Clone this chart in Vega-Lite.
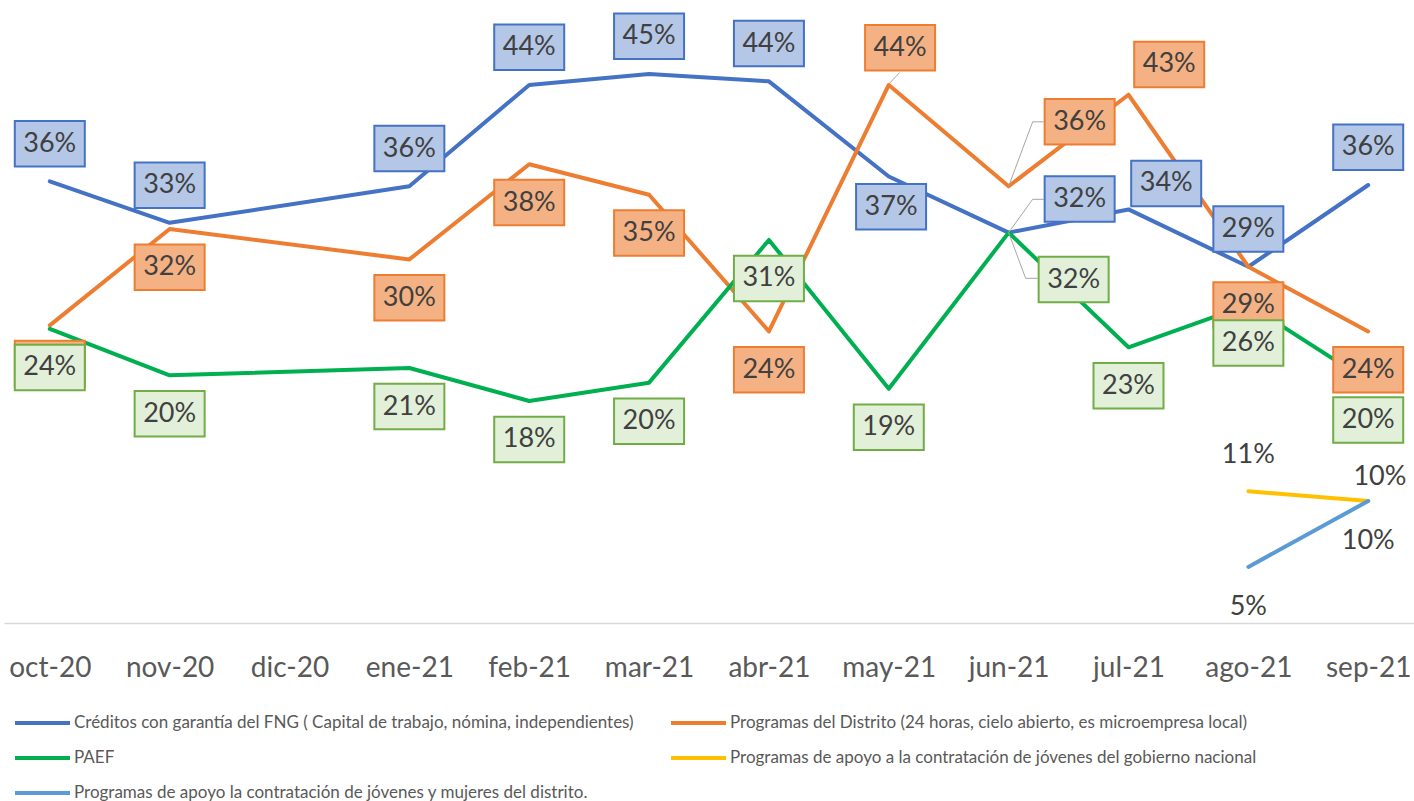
{
  "$schema": "https://vega.github.io/schema/vega-lite/v6.json",
  "autosize": {"type": "none"},
  "width": 1410,
  "height": 610,
  "padding": {"left": 4, "top": 13, "right": 0, "bottom": 178},
  "background": "white",
  "config": {"view": {"stroke": null}, "font": "Lato"},
  "data": {"values": [
    {"serie": "Créditos con garantía del FNG ( Capital de trabajo, nómina, independientes)", "mes": "oct-20", "v": 0.362},
    {"serie": "Créditos con garantía del FNG ( Capital de trabajo, nómina, independientes)", "mes": "nov-20", "v": 0.328},
    {"serie": "Créditos con garantía del FNG ( Capital de trabajo, nómina, independientes)", "mes": "ene-21", "v": 0.358},
    {"serie": "Créditos con garantía del FNG ( Capital de trabajo, nómina, independientes)", "mes": "feb-21", "v": 0.441},
    {"serie": "Créditos con garantía del FNG ( Capital de trabajo, nómina, independientes)", "mes": "mar-21", "v": 0.450},
    {"serie": "Créditos con garantía del FNG ( Capital de trabajo, nómina, independientes)", "mes": "abr-21", "v": 0.444},
    {"serie": "Créditos con garantía del FNG ( Capital de trabajo, nómina, independientes)", "mes": "may-21", "v": 0.366},
    {"serie": "Créditos con garantía del FNG ( Capital de trabajo, nómina, independientes)", "mes": "jun-21", "v": 0.320},
    {"serie": "Créditos con garantía del FNG ( Capital de trabajo, nómina, independientes)", "mes": "jul-21", "v": 0.339},
    {"serie": "Créditos con garantía del FNG ( Capital de trabajo, nómina, independientes)", "mes": "ago-21", "v": 0.292},
    {"serie": "Créditos con garantía del FNG ( Capital de trabajo, nómina, independientes)", "mes": "sep-21", "v": 0.359},
    {"serie": "Programas del Distrito (24 horas, cielo abierto, es microempresa local)", "mes": "oct-20", "v": 0.244},
    {"serie": "Programas del Distrito (24 horas, cielo abierto, es microempresa local)", "mes": "nov-20", "v": 0.323},
    {"serie": "Programas del Distrito (24 horas, cielo abierto, es microempresa local)", "mes": "ene-21", "v": 0.298},
    {"serie": "Programas del Distrito (24 horas, cielo abierto, es microempresa local)", "mes": "feb-21", "v": 0.376},
    {"serie": "Programas del Distrito (24 horas, cielo abierto, es microempresa local)", "mes": "mar-21", "v": 0.351},
    {"serie": "Programas del Distrito (24 horas, cielo abierto, es microempresa local)", "mes": "abr-21", "v": 0.239},
    {"serie": "Programas del Distrito (24 horas, cielo abierto, es microempresa local)", "mes": "may-21", "v": 0.441},
    {"serie": "Programas del Distrito (24 horas, cielo abierto, es microempresa local)", "mes": "jun-21", "v": 0.358},
    {"serie": "Programas del Distrito (24 horas, cielo abierto, es microempresa local)", "mes": "jul-21", "v": 0.433},
    {"serie": "Programas del Distrito (24 horas, cielo abierto, es microempresa local)", "mes": "ago-21", "v": 0.292},
    {"serie": "Programas del Distrito (24 horas, cielo abierto, es microempresa local)", "mes": "sep-21", "v": 0.239},
    {"serie": "PAEF", "mes": "oct-20", "v": 0.241},
    {"serie": "PAEF", "mes": "nov-20", "v": 0.203},
    {"serie": "PAEF", "mes": "ene-21", "v": 0.209},
    {"serie": "PAEF", "mes": "feb-21", "v": 0.182},
    {"serie": "PAEF", "mes": "mar-21", "v": 0.197},
    {"serie": "PAEF", "mes": "abr-21", "v": 0.314},
    {"serie": "PAEF", "mes": "may-21", "v": 0.192},
    {"serie": "PAEF", "mes": "jun-21", "v": 0.320},
    {"serie": "PAEF", "mes": "jul-21", "v": 0.226},
    {"serie": "PAEF", "mes": "ago-21", "v": 0.261},
    {"serie": "PAEF", "mes": "sep-21", "v": 0.198},
    {"serie": "Programas de apoyo a la contratación de jóvenes del gobierno nacional", "mes": "ago-21", "v": 0.108},
    {"serie": "Programas de apoyo a la contratación de jóvenes del gobierno nacional", "mes": "sep-21", "v": 0.100},
    {"serie": "Programas de apoyo la contratación de jóvenes y mujeres del distrito.", "mes": "ago-21", "v": 0.046},
    {"serie": "Programas de apoyo la contratación de jóvenes y mujeres del distrito.", "mes": "sep-21", "v": 0.100}
  ]},
  "encoding": {
    "x": {"field": "mes", "type": "ordinal",
      "scale": {"type": "point", "padding": 0.382, "domain": ["oct-20","nov-20","dic-20","ene-21","feb-21","mar-21","abr-21","may-21","jun-21","jul-21","ago-21","sep-21"]},
      "axis": {"title": null, "labelAngle": 0, "ticks": false, "tickSize": 0, "grid": false, "domainColor": "#D9D9D9", "domainWidth": 1.5,
        "labelFont": "Lato", "labelFontSize": 28, "labelColor": "#595959", "labelBaseline": "alphabetic", "labelPadding": 53, "labelOverlap": false}},
    "y": {"field": "v", "type": "quantitative", "scale": {"domain": [0, 0.5]}, "axis": null}
  },
  "layer": [
    {"mark": {"type": "line", "strokeWidth": 4, "strokeCap": "round", "strokeJoin": "round"},
     "encoding": {"color": {"field": "serie", "type": "nominal",
       "scale": {"domain": ["Créditos con garantía del FNG ( Capital de trabajo, nómina, independientes)", "Programas del Distrito (24 horas, cielo abierto, es microempresa local)", "PAEF", "Programas de apoyo a la contratación de jóvenes del gobierno nacional", "Programas de apoyo la contratación de jóvenes y mujeres del distrito."],
                 "range": ["#4472C4", "#ED7D31", "#00B050", "#FFC000", "#5B9BD5"]},
       "legend": {"orient": "none", "legendX": 9, "legendY": 702, "columns": 2, "direction": "horizontal", "title": null, "symbolType": "stroke", "symbolSize": 3025, "symbolStrokeWidth": 4,
         "labelFont": "Lato", "labelFontSize": 17, "labelColor": "#595959", "labelLimit": 1000, "labelOffset": 2, "rowPadding": 18, "columnPadding": 35, "clipHeight": 16, "padding": 0, "symbolOffset": 0}}}},

    {"transform": [{"filter": {"and": [{"field": "serie", "equal": "Programas del Distrito (24 horas, cielo abierto, es microempresa local)"}, {"field": "mes", "equal": "may-21"}]}}],
     "mark": {"type": "point", "shape": "M0.02,-0.04L0.22,-0.252", "size": 10000, "filled": false, "stroke": "#A6A6A6", "strokeWidth": 1, "opacity": 1}},
    {"transform": [{"filter": {"and": [{"field": "serie", "equal": "Programas del Distrito (24 horas, cielo abierto, es microempresa local)"}, {"field": "mes", "equal": "jun-21"}]}}],
     "mark": {"type": "point", "shape": "M0,0L0.48,-1.288L0.7,-1.288", "size": 10000, "filled": false, "stroke": "#A6A6A6", "strokeWidth": 1, "opacity": 1}},
    {"transform": [{"filter": {"and": [{"field": "serie", "equal": "Créditos con garantía del FNG ( Capital de trabajo, nómina, independientes)"}, {"field": "mes", "equal": "jun-21"}]}}],
     "mark": {"type": "point", "shape": "M0,0L0.48,-0.666L0.7,-0.666", "size": 10000, "filled": false, "stroke": "#A6A6A6", "strokeWidth": 1, "opacity": 1}},
    {"transform": [{"filter": {"and": [{"field": "serie", "equal": "PAEF"}, {"field": "mes", "equal": "jun-21"}]}}],
     "mark": {"type": "point", "shape": "M0,0L0.34,0.914L0.58,0.914", "size": 10000, "filled": false, "stroke": "#A6A6A6", "strokeWidth": 1, "opacity": 1}},

    {"transform": [{"filter": {"and": [{"field": "serie", "equal": "Créditos con garantía del FNG ( Capital de trabajo, nómina, independientes)"}, {"field": "mes", "oneOf": ["oct-20","nov-20","ene-21","feb-21","mar-21","abr-21","ago-21","sep-21"]}]}}],
     "mark": {"type": "point", "shape": "M-1,-0.65L1,-0.65L1,0.65L-1,0.65Z", "size": 4900, "filled": true, "fill": "#B4C7E7", "stroke": "#4472C4", "strokeWidth": 2, "opacity": 1, "yOffset": -37.7}},
    {"transform": [{"filter": {"and": [{"field": "serie", "equal": "Créditos con garantía del FNG ( Capital de trabajo, nómina, independientes)"}, {"field": "mes", "oneOf": ["oct-20","nov-20","ene-21","feb-21","mar-21","abr-21","ago-21","sep-21"]}]}}],
     "mark": {"type": "text", "font": "Lato", "fontSize": 27, "color": "#404040", "align": "center", "baseline": "middle", "yOffset": -37.7},
     "encoding": {"text": {"field": "v", "type": "quantitative", "format": ".0%"}}},
    {"transform": [{"filter": {"and": [{"field": "serie", "equal": "Créditos con garantía del FNG ( Capital de trabajo, nómina, independientes)"}, {"field": "mes", "equal": "may-21"}]}}],
     "mark": {"type": "point", "shape": "M-1,-0.65L1,-0.65L1,0.65L-1,0.65Z", "size": 4900, "filled": true, "fill": "#B4C7E7", "stroke": "#4472C4", "strokeWidth": 2, "opacity": 1, "xOffset": 2.3, "yOffset": 30.3}},
    {"transform": [{"filter": {"and": [{"field": "serie", "equal": "Créditos con garantía del FNG ( Capital de trabajo, nómina, independientes)"}, {"field": "mes", "equal": "may-21"}]}}],
     "mark": {"type": "text", "font": "Lato", "fontSize": 27, "color": "#404040", "align": "center", "baseline": "middle", "xOffset": 2.3, "yOffset": 30.3},
     "encoding": {"text": {"field": "v", "type": "quantitative", "format": ".0%"}}},
    {"transform": [{"filter": {"and": [{"field": "serie", "equal": "Créditos con garantía del FNG ( Capital de trabajo, nómina, independientes)"}, {"field": "mes", "equal": "jun-21"}]}}],
     "mark": {"type": "point", "shape": "M-1,-0.65L1,-0.65L1,0.65L-1,0.65Z", "size": 4900, "filled": true, "fill": "#B4C7E7", "stroke": "#4472C4", "strokeWidth": 2, "opacity": 1, "xOffset": 71, "yOffset": -33.6}},
    {"transform": [{"filter": {"and": [{"field": "serie", "equal": "Créditos con garantía del FNG ( Capital de trabajo, nómina, independientes)"}, {"field": "mes", "equal": "jun-21"}]}}],
     "mark": {"type": "text", "font": "Lato", "fontSize": 27, "color": "#404040", "align": "center", "baseline": "middle", "xOffset": 71, "yOffset": -33.6},
     "encoding": {"text": {"field": "v", "type": "quantitative", "format": ".0%"}}},
    {"transform": [{"filter": {"and": [{"field": "serie", "equal": "Créditos con garantía del FNG ( Capital de trabajo, nómina, independientes)"}, {"field": "mes", "equal": "jul-21"}]}}],
     "mark": {"type": "point", "shape": "M-1,-0.65L1,-0.65L1,0.65L-1,0.65Z", "size": 4900, "filled": true, "fill": "#B4C7E7", "stroke": "#4472C4", "strokeWidth": 2, "opacity": 1, "xOffset": 37.7, "yOffset": -26}},
    {"transform": [{"filter": {"and": [{"field": "serie", "equal": "Créditos con garantía del FNG ( Capital de trabajo, nómina, independientes)"}, {"field": "mes", "equal": "jul-21"}]}}],
     "mark": {"type": "text", "font": "Lato", "fontSize": 27, "color": "#404040", "align": "center", "baseline": "middle", "xOffset": 37.7, "yOffset": -26},
     "encoding": {"text": {"field": "v", "type": "quantitative", "format": ".0%"}}},

    {"transform": [{"filter": {"and": [{"field": "serie", "equal": "Programas del Distrito (24 horas, cielo abierto, es microempresa local)"}, {"field": "mes", "oneOf": ["oct-20","nov-20","ene-21","feb-21","mar-21","abr-21","ago-21","sep-21"]}]}}],
     "mark": {"type": "point", "shape": "M-1,-0.65L1,-0.65L1,0.65L-1,0.65Z", "size": 4900, "filled": true, "fill": "#F4B183", "stroke": "#ED7D31", "strokeWidth": 2, "opacity": 1, "yOffset": 38.3}},
    {"transform": [{"filter": {"and": [{"field": "serie", "equal": "Programas del Distrito (24 horas, cielo abierto, es microempresa local)"}, {"field": "mes", "oneOf": ["oct-20","nov-20","ene-21","feb-21","mar-21","abr-21","ago-21","sep-21"]}]}}],
     "mark": {"type": "text", "font": "Lato", "fontSize": 27, "color": "#404040", "align": "center", "baseline": "middle", "yOffset": 38.3},
     "encoding": {"text": {"field": "v", "type": "quantitative", "format": ".0%"}}},
    {"transform": [{"filter": {"and": [{"field": "serie", "equal": "Programas del Distrito (24 horas, cielo abierto, es microempresa local)"}, {"field": "mes", "equal": "may-21"}]}}],
     "mark": {"type": "point", "shape": "M-1,-0.65L1,-0.65L1,0.65L-1,0.65Z", "size": 4900, "filled": true, "fill": "#F4B183", "stroke": "#ED7D31", "strokeWidth": 2, "opacity": 1, "xOffset": 11.3, "yOffset": -37.2}},
    {"transform": [{"filter": {"and": [{"field": "serie", "equal": "Programas del Distrito (24 horas, cielo abierto, es microempresa local)"}, {"field": "mes", "equal": "may-21"}]}}],
     "mark": {"type": "text", "font": "Lato", "fontSize": 27, "color": "#404040", "align": "center", "baseline": "middle", "xOffset": 11.3, "yOffset": -37.2},
     "encoding": {"text": {"field": "v", "type": "quantitative", "format": ".0%"}}},
    {"transform": [{"filter": {"and": [{"field": "serie", "equal": "Programas del Distrito (24 horas, cielo abierto, es microempresa local)"}, {"field": "mes", "equal": "jun-21"}]}}],
     "mark": {"type": "point", "shape": "M-1,-0.65L1,-0.65L1,0.65L-1,0.65Z", "size": 4900, "filled": true, "fill": "#F4B183", "stroke": "#ED7D31", "strokeWidth": 2, "opacity": 1, "xOffset": 71, "yOffset": -64.4}},
    {"transform": [{"filter": {"and": [{"field": "serie", "equal": "Programas del Distrito (24 horas, cielo abierto, es microempresa local)"}, {"field": "mes", "equal": "jun-21"}]}}],
     "mark": {"type": "text", "font": "Lato", "fontSize": 27, "color": "#404040", "align": "center", "baseline": "middle", "xOffset": 71, "yOffset": -64.4},
     "encoding": {"text": {"field": "v", "type": "quantitative", "format": ".0%"}}},
    {"transform": [{"filter": {"and": [{"field": "serie", "equal": "Programas del Distrito (24 horas, cielo abierto, es microempresa local)"}, {"field": "mes", "equal": "jul-21"}]}}],
     "mark": {"type": "point", "shape": "M-1,-0.65L1,-0.65L1,0.65L-1,0.65Z", "size": 4900, "filled": true, "fill": "#F4B183", "stroke": "#ED7D31", "strokeWidth": 2, "opacity": 1, "xOffset": 40.7, "yOffset": -30.3}},
    {"transform": [{"filter": {"and": [{"field": "serie", "equal": "Programas del Distrito (24 horas, cielo abierto, es microempresa local)"}, {"field": "mes", "equal": "jul-21"}]}}],
     "mark": {"type": "text", "font": "Lato", "fontSize": 27, "color": "#404040", "align": "center", "baseline": "middle", "xOffset": 40.7, "yOffset": -30.3},
     "encoding": {"text": {"field": "v", "type": "quantitative", "format": ".0%"}}},

    {"transform": [{"filter": {"and": [{"field": "serie", "equal": "PAEF"}, {"not": {"field": "mes", "equal": "jun-21"}}]}}],
     "mark": {"type": "point", "shape": "M-1,-0.65L1,-0.65L1,0.65L-1,0.65Z", "size": 4900, "filled": true, "fill": "#E2F0D9", "stroke": "#70AD47", "strokeWidth": 2, "opacity": 1, "yOffset": 38.5}},
    {"transform": [{"filter": {"and": [{"field": "serie", "equal": "PAEF"}, {"not": {"field": "mes", "equal": "jun-21"}}]}}],
     "mark": {"type": "text", "font": "Lato", "fontSize": 27, "color": "#404040", "align": "center", "baseline": "middle", "yOffset": 38.5},
     "encoding": {"text": {"field": "v", "type": "quantitative", "format": ".0%"}}},
    {"transform": [{"filter": {"and": [{"field": "serie", "equal": "PAEF"}, {"field": "mes", "equal": "jun-21"}]}}],
     "mark": {"type": "point", "shape": "M-1,-0.65L1,-0.65L1,0.65L-1,0.65Z", "size": 4900, "filled": true, "fill": "#E2F0D9", "stroke": "#70AD47", "strokeWidth": 2, "opacity": 1, "xOffset": 65, "yOffset": 47}},
    {"transform": [{"filter": {"and": [{"field": "serie", "equal": "PAEF"}, {"field": "mes", "equal": "jun-21"}]}}],
     "mark": {"type": "text", "font": "Lato", "fontSize": 27, "color": "#404040", "align": "center", "baseline": "middle", "xOffset": 65, "yOffset": 47},
     "encoding": {"text": {"field": "v", "type": "quantitative", "format": ".0%"}}},

    {"transform": [{"filter": {"and": [{"field": "serie", "equal": "Programas de apoyo a la contratación de jóvenes del gobierno nacional"}, {"field": "mes", "equal": "ago-21"}]}}],
     "mark": {"type": "text", "font": "Lato", "fontSize": 27, "color": "#404040", "align": "center", "baseline": "middle", "yOffset": -36},
     "encoding": {"text": {"field": "v", "type": "quantitative", "format": ".0%"}}},
    {"transform": [{"filter": {"and": [{"field": "serie", "equal": "Programas de apoyo a la contratación de jóvenes del gobierno nacional"}, {"field": "mes", "equal": "sep-21"}]}}],
     "mark": {"type": "text", "font": "Lato", "fontSize": 27, "color": "#404040", "align": "center", "baseline": "middle", "xOffset": 11.7, "yOffset": -24.3},
     "encoding": {"text": {"field": "v", "type": "quantitative", "format": ".0%"}}},
    {"transform": [{"filter": {"field": "serie", "equal": "Programas de apoyo la contratación de jóvenes y mujeres del distrito."}}],
     "mark": {"type": "text", "font": "Lato", "fontSize": 27, "color": "#404040", "align": "center", "baseline": "middle", "yOffset": 40},
     "encoding": {"text": {"field": "v", "type": "quantitative", "format": ".0%"}}}
  ]
}
